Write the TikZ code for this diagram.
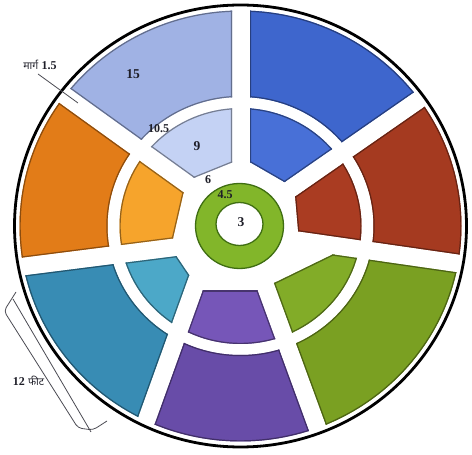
\documentclass[tikz,border=0pt]{standalone}
\usepackage{fontspec}
\newfontfamily\devfont[Script=Devanagari]{Noto Sans}
\newfontfamily\numfont{Liberation Serif}
\usetikzlibrary{calc}
\definecolor{lbO}{HTML}{A0B2E4}\definecolor{lbI}{HTML}{C4D2F4}
\definecolor{blO}{HTML}{3E66CD}\definecolor{blI}{HTML}{4870D7}
\definecolor{rdO}{HTML}{A53A20}\definecolor{rdI}{HTML}{AA3C22}
\definecolor{grO}{HTML}{7AA022}\definecolor{grI}{HTML}{82AC28}
\definecolor{puO}{HTML}{684CA8}\definecolor{puI}{HTML}{7656B8}
\definecolor{teO}{HTML}{388CB4}\definecolor{teI}{HTML}{4CA8C8}
\definecolor{orO}{HTML}{E27C18}\definecolor{orI}{HTML}{F6A42C}
\definecolor{ringG}{HTML}{82B62A}\definecolor{ringD}{HTML}{3F6E12}
\definecolor{ink}{HTML}{1E1E28}
\def\sw{9pt}
\newcommand\wedgepath[2]{($(P#1)!\sw!-90:(Q#1)$) -- ($(Q#1)!\sw!90:(P#1)$) -- ($(Q#2)!\sw!-90:(P#2)$) -- ($(P#2)!\sw!90:(Q#2)$) -- cycle}
% #1 ccw spoke, #2 cw spoke, #3 outer colour, #4 inner colour, #5 chord angle, #6 chord distance
\newcommand\gpiece[6]{%
\begin{scope}
\clip \wedgepath{#1}{#2};
\begin{scope}
\clip (221,0) arc[start angle=0,end angle=360,x radius=221,y radius=215.5] -- (133,0) arc[start angle=360,end angle=0,x radius=133,y radius=129] -- cycle;
\fill[#3] (0,0) circle (240);
\draw[line width=2.4,#3!62!black] \wedgepath{#1}{#2};
\draw[line width=2.4,#3!62!black] (0,0) ellipse[x radius=221,y radius=215.5] (0,0) ellipse[x radius=133,y radius=129];
\end{scope}
\begin{scope}
\clip[rotate=#5] (#6,-300) -- (400,-300) -- (400,300) -- (#6,300) -- cycle;
\clip (0,0) ellipse[x radius=121,y radius=118];
\fill[#4] (0,0) circle (130);
\draw[line width=2.4,#4!60!black] \wedgepath{#1}{#2};
\draw[line width=2.4,#4!60!black] (0,0) ellipse[x radius=121,y radius=118];
\draw[line width=2.4,#4!60!black,rotate=#5] (#6,-300) -- (#6,300);
\end{scope}
\end{scope}}
\tikzset{num/.style={text=ink,font=\numfont\bfseries\fontsize{12}{14}\selectfont,inner sep=0pt},
 bignum/.style={num,font=\numfont\bfseries\fontsize{13.5}{15}\selectfont},
 guide/.style={draw=ink!80,line width=0.8pt}}
\begin{document}
\begin{tikzpicture}[x=1pt,y=1pt]
\fill[white] (0,0) rectangle (472,455);
\useasboundingbox (0,0) rectangle (472,455);
\begin{scope}[shift={(240.5,229)}]
% spokes: P inner point, Q outer point
\coordinate (P1) at (0.5,0);    \coordinate (Q1) at (0.5,266);
\coordinate (P2) at (-0.5,2);   \coordinate (Q2) at (241.5,170);
\coordinate (P3) at (-0.5,-6);  \coordinate (Q3) at (249.5,-42);
\coordinate (P4) at (3,0);      \coordinate (Q4) at (96,-254);
\coordinate (P5) at (-24,0);    \coordinate (Q5) at (-115.5,-254);
\coordinate (P6) at (-0.5,-13); \coordinate (Q6) at (-260.5,-46);
\coordinate (P7) at (-0.5,4);   \coordinate (Q7) at (-250.5,184);
\gpiece{7}{1}{lbO}{lbI}{112}{62}
\gpiece{1}{2}{blO}{blI}{60}{60}
\gpiece{2}{3}{rdO}{rdI}{5}{57}
\gpiece{3}{4}{grO}{grI}{-64}{66}
\gpiece{4}{5}{puO}{puI}{-90}{65}
\gpiece{5}{6}{teO}{teI}{-146}{70}
\gpiece{6}{7}{orO}{orI}{167}{63}
% outer path circle
\draw[line width=2.8pt,black] (0,0) ellipse[x radius=226,y radius=221];
% central ring
\fill[ringG,draw=ringD,line width=1.3pt,even odd rule] (-1,0) ellipse[x radius=44,y radius=42.5] (-1,2) ellipse[x radius=23.5,y radius=21.5];
% labels
\node[bignum] (l15) at (-107.5,152) {15};
\node[num] (l105) at (-82,97) {10.5};
\node[bignum] (l9) at (-43.5,80) {9};
\node[num] (l6) at (-32.5,46) {6};
\node[num] (l45) at (-15.5,31) {4.5};
\node[bignum] (l3) at (0.5,4) {3};
\node[text=ink,inner sep=1pt] (lpath) at (-200.5,161) {{\devfont\bfseries\fontsize{10.5}{12}\selectfont मार्ग} {\numfont\bfseries\fontsize{12}{14}\selectfont 1.5}};
\coordinate (ptrB) at (-162.5,123);
\path (lpath.south) ++(-2,-3) coordinate (ptrA);
\draw[guide] (ptrA) -- (ptrB);
\node[text=ink,inner sep=1pt] (l12) at (-212,-155) {{\numfont\bfseries\fontsize{12}{14}\selectfont 12} {\devfont\bfseries\fontsize{10.5}{12}\selectfont फीट}};
\coordinate (b1) at (-224.5,-66);
\coordinate (b2) at (-236.5,-85);
\coordinate (b3) at (-162.5,-202);
\coordinate (b4) at (-147.5,-204);
\coordinate (b5) at (-133.5,-195);
\draw[guide,rounded corners=4pt] (b1) -- (b2) -- (b3) -- (b4) -- (b5);
\coordinate (d1) at (-227.5,-73);
\coordinate (d2) at (-149.5,-206);
\draw[guide] (d1) -- (d2);
\end{scope}
\end{tikzpicture}
\end{document}
